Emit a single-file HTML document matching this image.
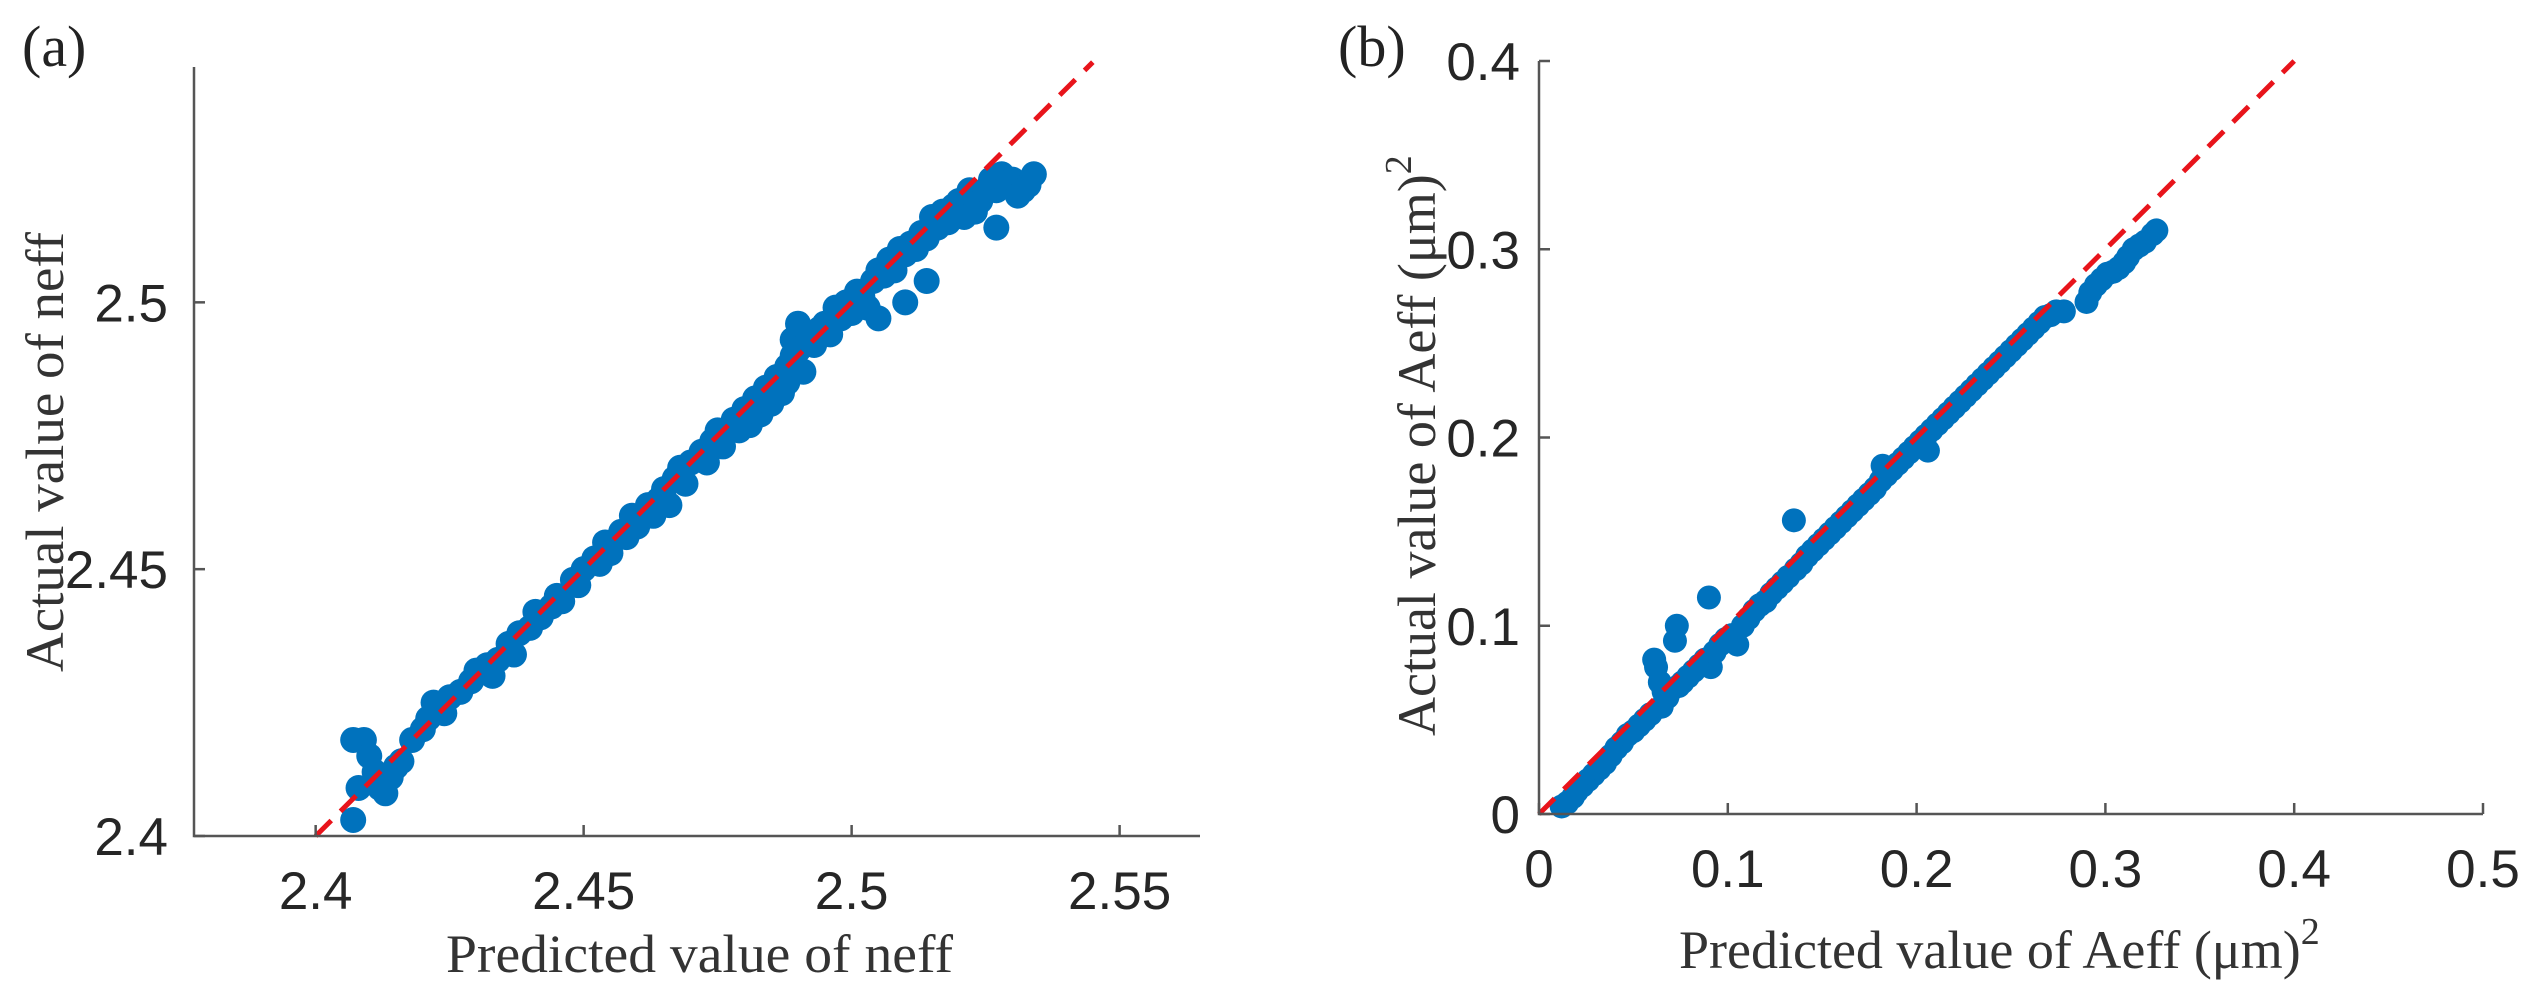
<!DOCTYPE html>
<html><head><meta charset="utf-8"><style>
html,body{margin:0;padding:0;background:#fff;}
svg{display:block;}
.tick{font-family:"Liberation Sans",Arial,sans-serif;font-size:53px;fill:#262626;}
.title{font-family:"Liberation Serif","Times New Roman",serif;font-size:54px;fill:#333;}
</style></head><body>
<svg id="fig" width="2532" height="1003" viewBox="0 0 2532 1003" xmlns="http://www.w3.org/2000/svg"></svg>
<script>
// Panel (a) data
const aPred = [2.407,2.409,2.408,2.407,2.410,2.411,2.412,2.413,2.414,2.415,2.416,2.418,2.420,2.421,2.422,2.424,2.425,2.427,2.429,2.430,2.432,2.433,2.434,2.436,2.437,2.438,2.440,2.441,2.442,2.444,2.445,2.446,2.448,2.449,2.450,2.452,2.453,2.454,2.455,2.457,2.458,2.459,2.460,2.462,2.463,2.464,2.465,2.466,2.467,2.468,2.469,2.470,2.472,2.473,2.474,2.475,2.476,2.477,2.478,2.479,2.480,2.481,2.482,2.483,2.484,2.485,2.486,2.487,2.488,2.488,2.489,2.489,2.490,2.490,2.491,2.492,2.493,2.494,2.495,2.496,2.497,2.498,2.499,2.500,2.501,2.502,2.503,2.504,2.505,2.505,2.506,2.507,2.508,2.509,2.510,2.510,2.511,2.512,2.513,2.514,2.514,2.515,2.516,2.517,2.518,2.519,2.520,2.521,2.522,2.523,2.524,2.525,2.526,2.527,2.527,2.528,2.529,2.530,2.531,2.532,2.533,2.534];
const aAct = [2.418,2.418,2.409,2.403,2.415,2.412,2.409,2.408,2.411,2.413,2.414,2.418,2.420,2.422,2.425,2.423,2.426,2.427,2.429,2.431,2.432,2.430,2.433,2.436,2.434,2.438,2.439,2.442,2.441,2.443,2.445,2.444,2.448,2.447,2.450,2.452,2.451,2.455,2.453,2.457,2.456,2.460,2.458,2.462,2.460,2.463,2.465,2.462,2.467,2.469,2.466,2.470,2.472,2.470,2.474,2.476,2.473,2.476,2.478,2.476,2.480,2.477,2.482,2.479,2.484,2.481,2.486,2.483,2.488,2.485,2.490,2.493,2.496,2.491,2.487,2.494,2.492,2.495,2.496,2.494,2.499,2.497,2.500,2.498,2.502,2.501,2.499,2.504,2.506,2.497,2.505,2.508,2.506,2.510,2.500,2.509,2.511,2.510,2.513,2.504,2.512,2.516,2.514,2.517,2.515,2.518,2.519,2.516,2.521,2.517,2.519,2.521,2.523,2.514,2.521,2.524,2.522,2.523,2.520,2.521,2.522,2.524];
const aXTicks = [2.4,2.45,2.5,2.55];
const aXTickLabels = ["2.4","2.45","2.5","2.55"];
const aYTicks = [2.4,2.45,2.5];
const aYTickLabels = ["2.4","2.45","2.5"];
const aRefLine = [2.4,2.545];
// Panel (b) data
const bPred = [0.012,0.015,0.018,0.020,0.023,0.026,0.029,0.032,0.035,0.038,0.041,0.044,0.047,0.050,0.053,0.056,0.059,0.061,0.062,0.064,0.065,0.066,0.068,0.070,0.072,0.073,0.074,0.076,0.079,0.082,0.085,0.088,0.090,0.091,0.093,0.096,0.099,0.102,0.105,0.108,0.111,0.114,0.117,0.120,0.123,0.126,0.129,0.132,0.135,0.136,0.139,0.142,0.145,0.148,0.151,0.154,0.157,0.160,0.163,0.166,0.169,0.172,0.175,0.178,0.181,0.182,0.184,0.187,0.190,0.193,0.196,0.199,0.202,0.205,0.206,0.208,0.211,0.214,0.217,0.220,0.223,0.226,0.229,0.232,0.235,0.238,0.241,0.244,0.247,0.250,0.253,0.256,0.259,0.262,0.265,0.268,0.271,0.274,0.278,0.290,0.292,0.295,0.298,0.301,0.304,0.307,0.310,0.312,0.315,0.318,0.321,0.325,0.327];
const bAct = [0.004,0.006,0.009,0.012,0.015,0.018,0.021,0.024,0.027,0.031,0.035,0.038,0.042,0.044,0.047,0.050,0.053,0.082,0.078,0.070,0.057,0.065,0.062,0.066,0.092,0.100,0.068,0.070,0.073,0.076,0.079,0.082,0.115,0.078,0.086,0.090,0.093,0.095,0.090,0.100,0.104,0.108,0.111,0.113,0.117,0.120,0.123,0.126,0.156,0.130,0.133,0.137,0.140,0.143,0.146,0.149,0.152,0.155,0.158,0.161,0.164,0.167,0.170,0.173,0.177,0.185,0.180,0.183,0.186,0.189,0.192,0.195,0.198,0.201,0.193,0.204,0.207,0.210,0.213,0.216,0.219,0.222,0.225,0.228,0.231,0.234,0.237,0.240,0.243,0.246,0.249,0.252,0.255,0.258,0.261,0.264,0.265,0.267,0.267,0.272,0.277,0.281,0.284,0.287,0.288,0.290,0.293,0.296,0.300,0.302,0.304,0.308,0.310];
const bXTicks = [0,0.1,0.2,0.3,0.4,0.5];
const bXTickLabels = ["0","0.1","0.2","0.3","0.4","0.5"];
const bYTicks = [0,0.1,0.2,0.3,0.4];
const bYTickLabels = ["0","0.1","0.2","0.3","0.4"];
const bRefLine = [0,0.4];

const NS="http://www.w3.org/2000/svg";
const svg=document.getElementById('fig');
function mk(tag,attrs,parent){const e=document.createElementNS(NS,tag);for(const k in attrs)e.setAttribute(k,attrs[k]);(parent||svg).appendChild(e);return e;}

function panel(cfg){
  const g=mk('g',{});
  
  
  const sx=v=>cfg.x0+(v-cfg.xmin)/(cfg.xmax-cfg.xmin)*(cfg.x1-cfg.x0);
  const sy=v=>cfg.y0-(v-cfg.ymin)/(cfg.ymax-cfg.ymin)*(cfg.y0-cfg.y1);
  const pg=mk('g',{fill:'#0072BD'},g);
  
  
  for(let i=0;i<cfg.px.length;i++){
    const c=mk('circle',{cx:sx(cfg.px[i]),cy:sy(cfg.py[i]),r:cfg.r},pg);
    
    
  }
  const l=mk('line',{x1:sx(cfg.ref[0]),y1:sy(cfg.ref[0]),x2:sx(cfg.ref[1]),y2:sy(cfg.ref[1]),stroke:'#E8141B','stroke-width':5,'stroke-dasharray':'22 13'},g);
  
  
  const ax=mk('path',{d:`M${cfg.x0},${cfg.y1} V${cfg.y0} H${cfg.x1}`,fill:'none',stroke:'#555','stroke-width':2.5},g);
  
  
  cfg.xt.forEach((v,i)=>{
    const x=sx(v);
    mk('line',{x1:x,y1:cfg.y0,x2:x,y2:cfg.y0-11,stroke:'#555','stroke-width':2.5},g);
    const t=mk('text',{x:x,y:cfg.y0+73,'text-anchor':'middle',class:'tick'},g);
    t.textContent=cfg.xl[i];
    
    
  });
  cfg.yt.forEach((v,i)=>{
    const y=sy(v);
    mk('line',{x1:cfg.x0,y1:y,x2:cfg.x0+11,y2:y,stroke:'#555','stroke-width':2.5},g);
    const t=mk('text',{x:cfg.x0-cfg.ygap,y:y+19,'text-anchor':'end',class:'tick'},g);
    t.textContent=cfg.yl[i];
    
    
  });
  return g;
}

panel({name:'panel-a',r:13,x0:194,x1:1200,y0:836,y1:67,xmin:2.3773,xmax:2.565,ymin:2.4,ymax:2.5441,px:aPred,py:aAct,ref:aRefLine,xt:aXTicks,xl:aXTickLabels,yt:aYTicks,yl:aYTickLabels,ygap:26});
panel({name:'panel-b',r:12,x0:1539,x1:2483,y0:814,y1:61,xmin:0,xmax:0.5,ymin:0,ymax:0.4,px:bPred,py:bAct,ref:bRefLine,xt:bXTicks,xl:bXTickLabels,yt:bYTicks,yl:bYTickLabels,ygap:19});

function txt(x,y,s,name,extra){const t=mk('text',Object.assign({x:x,y:y,class:'title'},extra||{}));t.textContent=s;return t;}
txt(22,66,'(a)','panel-a-label',{style:'font-size:58px;fill:#222'});
txt(1338,66,'(b)','panel-b-label',{style:'font-size:58px;fill:#222'});
txt(446,972,'Predicted value of neff','panel-a-x-axis-title',{textLength:507,lengthAdjust:'spacingAndGlyphs'});
txt(0,0,'Actual value of neff','panel-a-y-axis-title',{transform:'translate(63,672) rotate(-90)',textLength:440,lengthAdjust:'spacingAndGlyphs'});
const bx=txt(1679,968,'Predicted value of Aeff (\u03bcm)','panel-b-x-axis-title',{});
const sup=document.createElementNS(NS,'tspan');sup.setAttribute('dy','-24');sup.setAttribute('style','font-size:38px');sup.textContent='2';bx.appendChild(sup);
const by=txt(0,0,'Actual value of Aeff (\u03bcm)','panel-b-y-axis-title',{transform:'translate(1435,736) rotate(-90)'});
const sup2=document.createElementNS(NS,'tspan');sup2.setAttribute('dy','-24');sup2.setAttribute('style','font-size:38px');sup2.textContent='2';by.appendChild(sup2);
</script>
</body></html>
